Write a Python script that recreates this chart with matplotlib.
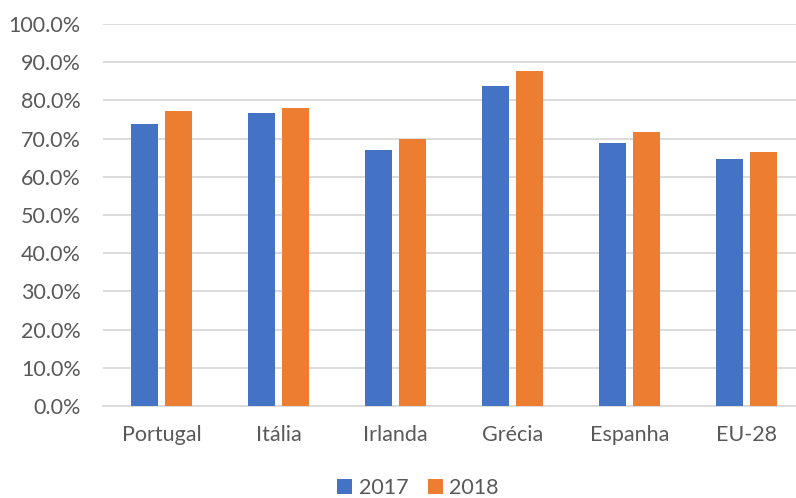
import matplotlib
matplotlib.use('Agg')

import matplotlib.pyplot as plt
import numpy as np
from matplotlib.ticker import FuncFormatter

categories = ['Portugal', 'Itália', 'Irlanda', 'Grécia', 'Espanha', 'EU-28']
values_2017 = [73.9, 76.8, 66.9, 83.8, 68.9, 64.7]
values_2018 = [77.3, 78.0, 70.0, 87.8, 71.8, 66.4]
series_labels = ['2017', '2018']

BLUE = '#4472C4'
ORANGE = '#ED7D31'
GRID = '#D9D9D9'
TEXT = '#595959'

plt.rcParams['font.family'] = ['Lato', 'DejaVu Sans']

fig = plt.figure(figsize=(7.96, 4.98), dpi=100)
# axes run slightly past the right edge of the canvas
ax = fig.add_axes([103 / 796, 92 / 498, 702 / 796, 382 / 498])

x = np.arange(len(categories))
width = 0.223
offset = 0.145
ax.bar(x - offset, values_2017, width, color=BLUE, label=series_labels[0], zorder=3)
ax.bar(x + offset, values_2018, width, color=ORANGE, label=series_labels[1], zorder=3)

ax.set_xlim(-0.5, len(categories) - 0.5)
ax.set_ylim(0, 100)
ax.set_yticks(np.arange(0, 101, 10))
ax.yaxis.set_major_formatter(FuncFormatter(lambda v, _: f'{v:.1f}%'))
ax.set_xticks(x)
ax.set_xticklabels(categories)

ax.grid(axis='y', color=GRID, linewidth=1.3, zorder=0)
for side in ['top', 'right', 'left']:
    ax.spines[side].set_visible(False)
ax.spines['bottom'].set_color(GRID)
ax.spines['bottom'].set_linewidth(1.3)
ax.tick_params(axis='both', length=0, labelsize=15.5, colors=TEXT)
ax.tick_params(axis='x', pad=14)
ax.tick_params(axis='y', pad=16)

fig.legend(loc='center', bbox_to_anchor=(418 / 796, 1 - 488 / 498), ncol=2,
           frameon=False, fontsize=15.5, handlelength=0.7, handleheight=0.7,
           handletextpad=0.3, columnspacing=0.9, labelcolor=TEXT)

fig.savefig('out.png', dpi=100, facecolor='white')
